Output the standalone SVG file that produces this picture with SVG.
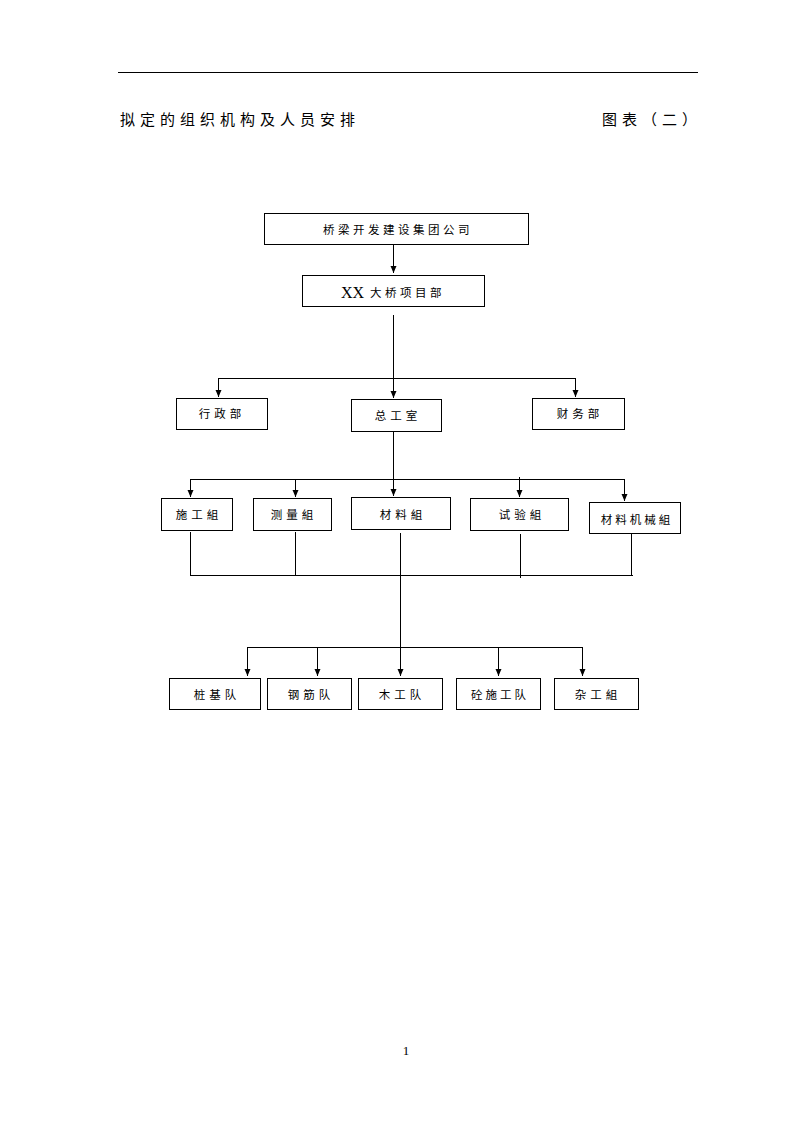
<svg xmlns="http://www.w3.org/2000/svg" width="794" height="1123" viewBox="0 0 794 1123">
<defs>
<style>
.bx{fill:#fff;stroke:#000;stroke-width:1}
.t{font-family:"Noto Sans CJK SC","Noto Sans CJK JP",sans-serif;font-size:11.5px;letter-spacing:4px;fill:#000;text-anchor:middle;dominant-baseline:central}
.h{font-family:"Noto Sans CJK SC","Noto Sans CJK JP",sans-serif;font-size:15px;letter-spacing:5px;fill:#000;dominant-baseline:central}
.c{fill:none;stroke:#000;stroke-width:1}
</style>
<marker id="ah" markerUnits="userSpaceOnUse" markerWidth="7" markerHeight="8" viewBox="0 -4 7 8" refX="7" refY="0" orient="auto">
<path d="M0,-3 L7,0 L0,3 z" fill="#000"/>
</marker>
</defs>
<rect width="794" height="1123" fill="#fff"/>
<line x1="118" y1="72.5" x2="698" y2="72.5" stroke="#000" stroke-width="1"/>
<text class="h" x="120" y="118">拟定的组织机构及人员安排</text>
<text class="h" x="602" y="118" style="letter-spacing:5px">图表（二）</text>

<g id="connectors">
<line class="c" x1="393.5" y1="244" x2="393.5" y2="273" marker-end="url(#ah)"/>
<line class="c" x1="393.5" y1="315" x2="393.5" y2="378.5"/>
<line class="c" x1="218" y1="378.5" x2="575.5" y2="378.5"/>
<line class="c" x1="218.5" y1="378" x2="218.5" y2="397" marker-end="url(#ah)"/>
<line class="c" x1="393.5" y1="378" x2="393.5" y2="398" marker-end="url(#ah)"/>
<line class="c" x1="575.5" y1="378" x2="575.5" y2="397" marker-end="url(#ah)"/>
<line class="c" x1="393.5" y1="431" x2="393.5" y2="496" marker-end="url(#ah)"/>
<line class="c" x1="190" y1="479.5" x2="624.5" y2="479.5"/>
<line class="c" x1="190.5" y1="479" x2="190.5" y2="497" marker-end="url(#ah)"/>
<line class="c" x1="295.5" y1="479" x2="295.5" y2="497" marker-end="url(#ah)"/>
<line class="c" x1="519.5" y1="477" x2="519.5" y2="497" marker-end="url(#ah)"/>
<line class="c" x1="624.5" y1="479" x2="624.5" y2="501" marker-end="url(#ah)"/>
<line class="c" x1="190.5" y1="532" x2="190.5" y2="576"/>
<line class="c" x1="295.5" y1="532" x2="295.5" y2="576"/>
<line class="c" x1="520.5" y1="534" x2="520.5" y2="578"/>
<line class="c" x1="631.5" y1="534" x2="631.5" y2="576"/>
<line class="c" x1="190" y1="575.5" x2="633" y2="575.5"/>
<line class="c" x1="400.5" y1="533" x2="400.5" y2="676" marker-end="url(#ah)"/>
<line class="c" x1="247" y1="647.5" x2="582.5" y2="647.5"/>
<line class="c" x1="247.5" y1="647" x2="247.5" y2="676" marker-end="url(#ah)"/>
<line class="c" x1="317.5" y1="647" x2="317.5" y2="676" marker-end="url(#ah)"/>
<line class="c" x1="498.5" y1="647" x2="498.5" y2="676" marker-end="url(#ah)"/>
<line class="c" x1="582.5" y1="647" x2="582.5" y2="676" marker-end="url(#ah)"/>
</g>

<g id="n-group"><rect class="bx" x="264.5" y="213.5" width="264" height="31"/><text class="t" x="398" y="229" style="letter-spacing:3.5px">桥梁开发建设集团公司</text></g>
<g id="n-project"><rect class="bx" x="302.5" y="275.5" width="182" height="31"/><text class="t" x="393" y="292" style="letter-spacing:3.5px"><tspan style="font-family:'Liberation Serif',serif;font-size:16px;letter-spacing:0">XX</tspan> 大桥项目部</text></g>
<g id="n-admin"><rect class="bx" x="176.5" y="398.5" width="91" height="31"/><text class="t" x="222" y="413">行政部</text></g>
<g id="n-chief"><rect class="bx" x="351.5" y="399.5" width="90" height="32"/><text class="t" x="398" y="415">总工室</text></g>
<g id="n-finance"><rect class="bx" x="532.5" y="398.5" width="92" height="31"/><text class="t" x="580" y="413">财务部</text></g>

<g id="n-construction"><rect class="bx" x="161.5" y="498.5" width="71" height="32"/><text class="t" x="199" y="514">施工組</text></g>
<g id="n-survey"><rect class="bx" x="253.5" y="498.5" width="78" height="32"/><text class="t" x="294" y="514">测量組</text></g>
<g id="n-material"><rect class="bx" x="351.5" y="497.5" width="99" height="32"/><text class="t" x="403" y="514">材料組</text></g>
<g id="n-test"><rect class="bx" x="470.5" y="498.5" width="98" height="32"/><text class="t" x="522" y="514">试验組</text></g>
<g id="n-machine"><rect class="bx" x="589.5" y="502.5" width="91" height="31"/><text class="t" x="637" y="519" style="letter-spacing:3px">材料机械組</text></g>

<g id="n-pile"><rect class="bx" x="169.5" y="678.5" width="91" height="31"/><text class="t" x="217" y="694">桩基队</text></g>
<g id="n-rebar"><rect class="bx" x="267.5" y="678.5" width="84" height="31"/><text class="t" x="311" y="694">钢筋队</text></g>
<g id="n-carpentry"><rect class="bx" x="358.5" y="678.5" width="84" height="31"/><text class="t" x="402" y="694">木工队</text></g>
<g id="n-concrete"><rect class="bx" x="456.5" y="678.5" width="84" height="31"/><text class="t" x="500" y="694" style="letter-spacing:3px">砼施工队</text></g>
<g id="n-misc"><rect class="bx" x="554.5" y="678.5" width="84" height="31"/><text class="t" x="598" y="694">杂工組</text></g>

<text x="406" y="1055" font-family="'Liberation Serif',serif" font-size="13" text-anchor="middle">1</text>
</svg>
